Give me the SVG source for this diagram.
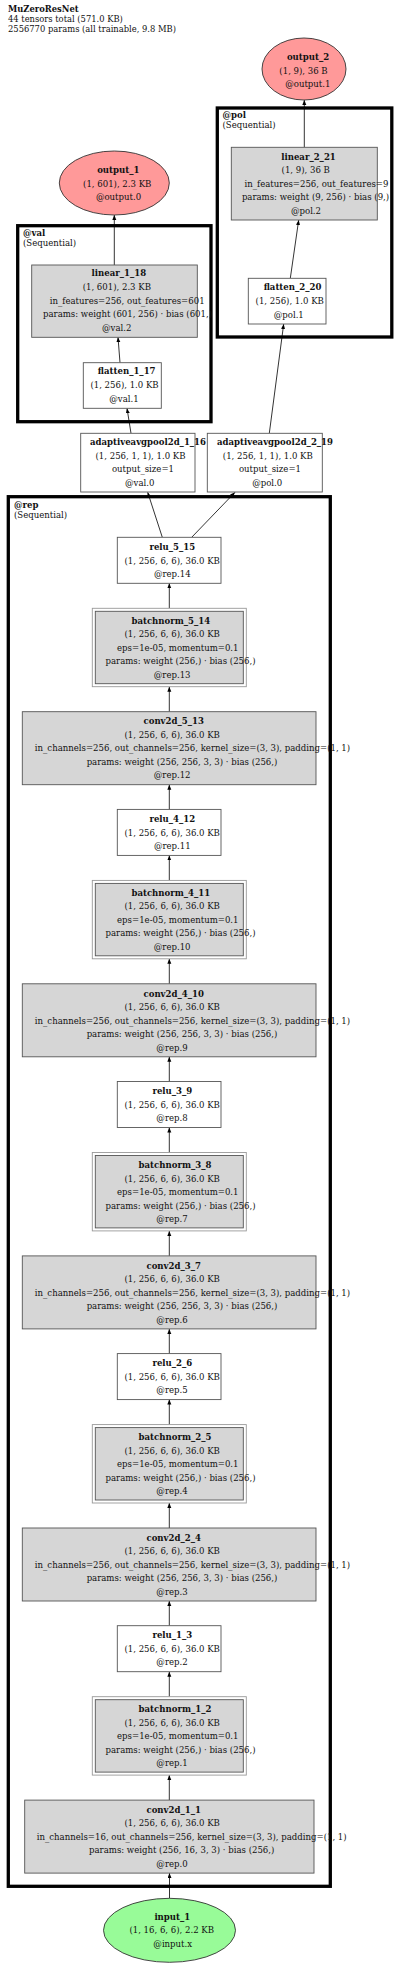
<svg xmlns="http://www.w3.org/2000/svg" width="400" height="1966" viewBox="0 0 400 1966">
<style>
text{font-family:"DejaVu Serif Condensed","DejaVu Serif","Liberation Serif",serif;font-stretch:condensed;font-size:9.5px;fill:#111;text-anchor:middle}
.b{font-weight:bold}
.l{text-anchor:start}
.t{font-size:9.3px}
.cl{fill:none;stroke:#000;stroke-width:3.3}
.box{fill:#fff;stroke:#555;stroke-width:0.9}
.g{fill:#d6d6d6;stroke:#555;stroke-width:0.9}
.bo{fill:#fff;stroke:#999;stroke-width:0.9}
.out{fill:#ff9999;stroke:#333;stroke-width:0.9}
.in{fill:#98fb98;stroke:#333;stroke-width:0.9}
.e{stroke:#000;stroke-width:0.8;fill:none;marker-end:url(#ah)}
</style>
<defs>
<marker id="ah" markerUnits="userSpaceOnUse" markerWidth="8" markerHeight="8" refX="5" refY="2" orient="auto">
<path d="M0,0 L5,2 L0,4 Z" fill="#000"/>
</marker>
</defs>
<rect width="400" height="1966" fill="#fff"/>
<g id="title">
<text class="b l t" x="8" y="12">MuZeroResNet</text>
<text class="l t" x="8" y="22">44 tensors total (571.0 KB)</text>
<text class="l t" x="8" y="32">2556770 params (all trainable, 9.8 MB)</text>
</g>
<g id="clusters">
<g id="cluster_pol"><rect class="cl" x="217.3" y="108" width="174.5" height="229"/><text class="b l" x="222.5" y="118">@pol</text><text class="l" x="222.5" y="127.8">(Sequential)</text></g>
<g id="cluster_val"><rect class="cl" x="17.7" y="225.7" width="193.3" height="196"/><text class="b l" x="23" y="235.5">@val</text><text class="l" x="23" y="245.5">(Sequential)</text></g>
<g id="cluster_rep"><rect class="cl" x="8.3" y="496.7" width="322" height="1389.6"/><text class="b l" x="14" y="508.3">@rep</text><text class="l" x="14" y="518.3">(Sequential)</text></g>
</g>
<g id="connectors">
<line class="e" x1="169.5" y1="1898.3" x2="169.5" y2="1873.1"/>
<line class="e" x1="169.3" y1="1800.1" x2="169.3" y2="1775.1"/>
<line class="e" x1="169.3" y1="1696.7" x2="169.3" y2="1671.7"/>
<line class="e" x1="169.3" y1="1625.7" x2="169.3" y2="1601"/>
<line class="e" x1="169.3" y1="1528" x2="169.3" y2="1503"/>
<line class="e" x1="169.3" y1="1424.6" x2="169.3" y2="1399.6"/>
<line class="e" x1="169.3" y1="1353.6" x2="169.3" y2="1328.9"/>
<line class="e" x1="169.3" y1="1255.9" x2="169.3" y2="1230.9"/>
<line class="e" x1="169.3" y1="1152.5" x2="169.3" y2="1127.5"/>
<line class="e" x1="169.3" y1="1081.5" x2="169.3" y2="1056.8"/>
<line class="e" x1="169.3" y1="983.8" x2="169.3" y2="958.8"/>
<line class="e" x1="169.3" y1="880.4" x2="169.3" y2="855.4"/>
<line class="e" x1="169.3" y1="809.4" x2="169.3" y2="784.7"/>
<line class="e" x1="169.3" y1="711.7" x2="169.3" y2="686.7"/>
<line class="e" x1="169.3" y1="608.3" x2="169.3" y2="583.3"/>
<line class="e" x1="162.3" y1="537.3" x2="147.7" y2="492.3"/>
<line class="e" x1="191.7" y1="537.3" x2="235" y2="492.3"/>
<line class="e" x1="131" y1="433.3" x2="127" y2="408.3"/>
<line class="e" x1="120" y1="362.7" x2="118" y2="337.3"/>
<line class="e" x1="114.3" y1="265" x2="114.3" y2="215"/>
<line class="e" x1="269.3" y1="433.3" x2="283.7" y2="324"/>
<line class="e" x1="290.3" y1="278.3" x2="298.7" y2="220"/>
<line class="e" x1="304.3" y1="147.3" x2="304.3" y2="100"/>
</g>
<g id="output_2">
<ellipse class="out" cx="304" cy="69" rx="42" ry="31"/>
<text class="b" x="308" y="59.5">output_2</text>
<text x="303.5" y="73.5">(1, 9), 36 B</text>
<text x="307.8" y="87">@output.1</text>
</g>
<g id="output_1">
<ellipse class="out" cx="114.3" cy="183" rx="55" ry="32"/>
<text class="b" x="118.3" y="172.6">output_1</text>
<text x="117.2" y="186.6">(1, 601), 2.3 KB</text>
<text x="118.5" y="199.6">@output.0</text>
</g>
<g id="linear_2_21">
<rect class="g" x="231.3" y="147.3" width="146" height="72.7"/>
<text class="b" x="308.5" y="159.5">linear_2_21</text>
<text x="305.7" y="173">(1, 9), 36 B</text>
<text x="316.5" y="186.5">in_features=256, out_features=9</text>
<text x="315.5" y="200">params: weight (9, 256) · bias (9,)</text>
<text x="306" y="213.5">@pol.2</text>
</g>
<g id="flatten_2_20">
<rect class="box" x="248.3" y="278.3" width="77.7" height="45.7"/>
<text class="b" x="292.5" y="290">flatten_2_20</text>
<text x="289.7" y="304">(1, 256), 1.0 KB</text>
<text x="288.8" y="317.6">@pol.1</text>
</g>
<g id="linear_1_18">
<rect class="g" x="31.7" y="265" width="165.6" height="72.3"/>
<text class="b" x="118.8" y="276">linear_1_18</text>
<text x="116.8" y="290">(1, 601), 2.3 KB</text>
<text x="127.2" y="304">in_features=256, out_features=601</text>
<text x="127.5" y="317.4">params: weight (601, 256) · bias (601,)</text>
<text x="116.7" y="331">@val.2</text>
</g>
<g id="flatten_1_17">
<rect class="box" x="83.3" y="362.7" width="78" height="45.6"/>
<text class="b" x="126.7" y="374.3">flatten_1_17</text>
<text x="124.5" y="388.3">(1, 256), 1.0 KB</text>
<text x="124" y="402">@val.1</text>
</g>
<g id="adaptiveavgpool2d_1_16">
<rect class="box" x="80.7" y="433.3" width="114.3" height="58.7"/>
<text class="b" x="148" y="445">adaptiveavgpool2d_1_16</text>
<text x="140.5" y="459.3">(1, 256, 1, 1), 1.0 KB</text>
<text x="143" y="472.3">output_size=1</text>
<text x="139.7" y="486">@val.0</text>
</g>
<g id="adaptiveavgpool2d_2_19">
<rect class="box" x="207.3" y="433.3" width="115" height="58.7"/>
<text class="b" x="275" y="445">adaptiveavgpool2d_2_19</text>
<text x="267.8" y="459.3">(1, 256, 1, 1), 1.0 KB</text>
<text x="270" y="472.3">output_size=1</text>
<text x="267.2" y="486">@pol.0</text>
</g>

<g id="relu_5_15" transform="translate(0,537.3)">
<rect class="box" x="117.3" y="0" width="103.7" height="46"/>
<text class="b" x="172.3" y="12.8">relu_5_15</text><text x="172.2" y="26.3">(1, 256, 6, 6), 36.0 KB</text><text x="172.3" y="39.8">@rep.14</text>
</g>
<g id="batchnorm_5_14" transform="translate(0,537.3)">
<rect class="bo" x="92.3" y="71" width="154" height="78.4"/><rect class="g" x="95.3" y="74" width="148" height="72.4"/>
<text class="b" x="170.8" y="86.5">batchnorm_5_14</text><text x="172.2" y="100">(1, 256, 6, 6), 36.0 KB</text><text x="177.8" y="113.5">eps=1e-05, momentum=0.1</text><text x="180.5" y="127">params: weight (256,) · bias (256,)</text><text x="172.2" y="140.5">@rep.13</text>
</g>
<g id="conv2d_5_13" transform="translate(0,537.3)">
<rect class="g" x="22.3" y="174.4" width="293.7" height="73"/>
<text class="b" x="173.7" y="187.2">conv2d_5_13</text><text x="172.2" y="200.7">(1, 256, 6, 6), 36.0 KB</text><text x="192.5" y="214.2">in_channels=256, out_channels=256, kernel_size=(3, 3), padding=(1, 1)</text><text x="182" y="227.7">params: weight (256, 256, 3, 3) · bias (256,)</text><text x="172.2" y="241.2">@rep.12</text>
</g>

<g id="relu_4_12" transform="translate(0,809.4)">
<rect class="box" x="117.3" y="0" width="103.7" height="46"/>
<text class="b" x="172.3" y="12.8">relu_4_12</text><text x="172.2" y="26.3">(1, 256, 6, 6), 36.0 KB</text><text x="172.3" y="39.8">@rep.11</text>
</g>
<g id="batchnorm_4_11" transform="translate(0,809.4)">
<rect class="bo" x="92.3" y="71" width="154" height="78.4"/><rect class="g" x="95.3" y="74" width="148" height="72.4"/>
<text class="b" x="170.8" y="86.5">batchnorm_4_11</text><text x="172.2" y="100">(1, 256, 6, 6), 36.0 KB</text><text x="177.8" y="113.5">eps=1e-05, momentum=0.1</text><text x="180.5" y="127">params: weight (256,) · bias (256,)</text><text x="172.2" y="140.5">@rep.10</text>
</g>
<g id="conv2d_4_10" transform="translate(0,809.4)">
<rect class="g" x="22.3" y="174.4" width="293.7" height="73"/>
<text class="b" x="173.7" y="187.2">conv2d_4_10</text><text x="172.2" y="200.7">(1, 256, 6, 6), 36.0 KB</text><text x="192.5" y="214.2">in_channels=256, out_channels=256, kernel_size=(3, 3), padding=(1, 1)</text><text x="182" y="227.7">params: weight (256, 256, 3, 3) · bias (256,)</text><text x="172" y="241.2">@rep.9</text>
</g>

<g id="relu_3_9" transform="translate(0,1081.5)">
<rect class="box" x="117.3" y="0" width="103.7" height="46"/>
<text class="b" x="172.3" y="12.8">relu_3_9</text><text x="172.2" y="26.3">(1, 256, 6, 6), 36.0 KB</text><text x="172" y="39.8">@rep.8</text>
</g>
<g id="batchnorm_3_8" transform="translate(0,1081.5)">
<rect class="bo" x="92.3" y="71" width="154" height="78.4"/><rect class="g" x="95.3" y="74" width="148" height="72.4"/>
<text class="b" x="175" y="86.5">batchnorm_3_8</text><text x="172.2" y="100">(1, 256, 6, 6), 36.0 KB</text><text x="177.8" y="113.5">eps=1e-05, momentum=0.1</text><text x="180.5" y="127">params: weight (256,) · bias (256,)</text><text x="172" y="140.5">@rep.7</text>
</g>
<g id="conv2d_3_7" transform="translate(0,1081.5)">
<rect class="g" x="22.3" y="174.4" width="293.7" height="73"/>
<text class="b" x="173.7" y="187.2">conv2d_3_7</text><text x="172.2" y="200.7">(1, 256, 6, 6), 36.0 KB</text><text x="192.5" y="214.2">in_channels=256, out_channels=256, kernel_size=(3, 3), padding=(1, 1)</text><text x="182" y="227.7">params: weight (256, 256, 3, 3) · bias (256,)</text><text x="172" y="241.2">@rep.6</text>
</g>

<g id="relu_2_6" transform="translate(0,1353.6)">
<rect class="box" x="117.3" y="0" width="103.7" height="46"/>
<text class="b" x="172.3" y="12.8">relu_2_6</text><text x="172.2" y="26.3">(1, 256, 6, 6), 36.0 KB</text><text x="172" y="39.8">@rep.5</text>
</g>
<g id="batchnorm_2_5" transform="translate(0,1353.6)">
<rect class="bo" x="92.3" y="71" width="154" height="78.4"/><rect class="g" x="95.3" y="74" width="148" height="72.4"/>
<text class="b" x="175" y="86.5">batchnorm_2_5</text><text x="172.2" y="100">(1, 256, 6, 6), 36.0 KB</text><text x="177.8" y="113.5">eps=1e-05, momentum=0.1</text><text x="180.5" y="127">params: weight (256,) · bias (256,)</text><text x="172" y="140.5">@rep.4</text>
</g>
<g id="conv2d_2_4" transform="translate(0,1353.6)">
<rect class="g" x="22.3" y="174.4" width="293.7" height="73"/>
<text class="b" x="173.7" y="187.2">conv2d_2_4</text><text x="172.2" y="200.7">(1, 256, 6, 6), 36.0 KB</text><text x="192.5" y="214.2">in_channels=256, out_channels=256, kernel_size=(3, 3), padding=(1, 1)</text><text x="182" y="227.7">params: weight (256, 256, 3, 3) · bias (256,)</text><text x="172" y="241.2">@rep.3</text>
</g>

<g id="relu_1_3" transform="translate(0,1625.7)">
<rect class="box" x="117.3" y="0" width="103.7" height="46"/>
<text class="b" x="172.3" y="12.8">relu_1_3</text><text x="172.2" y="26.3">(1, 256, 6, 6), 36.0 KB</text><text x="172" y="39.8">@rep.2</text>
</g>
<g id="batchnorm_1_2" transform="translate(0,1625.7)">
<rect class="bo" x="92.3" y="71" width="154" height="78.4"/><rect class="g" x="95.3" y="74" width="148" height="72.4"/>
<text class="b" x="175" y="86.5">batchnorm_1_2</text><text x="172.2" y="100">(1, 256, 6, 6), 36.0 KB</text><text x="177.8" y="113.5">eps=1e-05, momentum=0.1</text><text x="180.5" y="127">params: weight (256,) · bias (256,)</text><text x="172" y="140.5">@rep.1</text>
</g>
<g id="conv2d_1_1" transform="translate(0,1625.7)">
<rect class="g" x="24.7" y="174.4" width="289.3" height="73"/>
<text class="b" x="173.7" y="187.2">conv2d_1_1</text><text x="172.2" y="200.7">(1, 256, 6, 6), 36.0 KB</text><text x="191.7" y="214.2">in_channels=16, out_channels=256, kernel_size=(3, 3), padding=(1, 1)</text><text x="181.7" y="227.7">params: weight (256, 16, 3, 3) · bias (256,)</text><text x="172" y="241.2">@rep.0</text>
</g>

<g id="input_1">
<ellipse class="in" cx="169.5" cy="1930.3" rx="66" ry="32"/>
<text class="b" x="172.3" y="1919.6">input_1</text>
<text x="171.7" y="1933.3">(1, 16, 6, 6), 2.2 KB</text>
<text x="172.7" y="1946.5">@input.x</text>
</g>
</svg>
